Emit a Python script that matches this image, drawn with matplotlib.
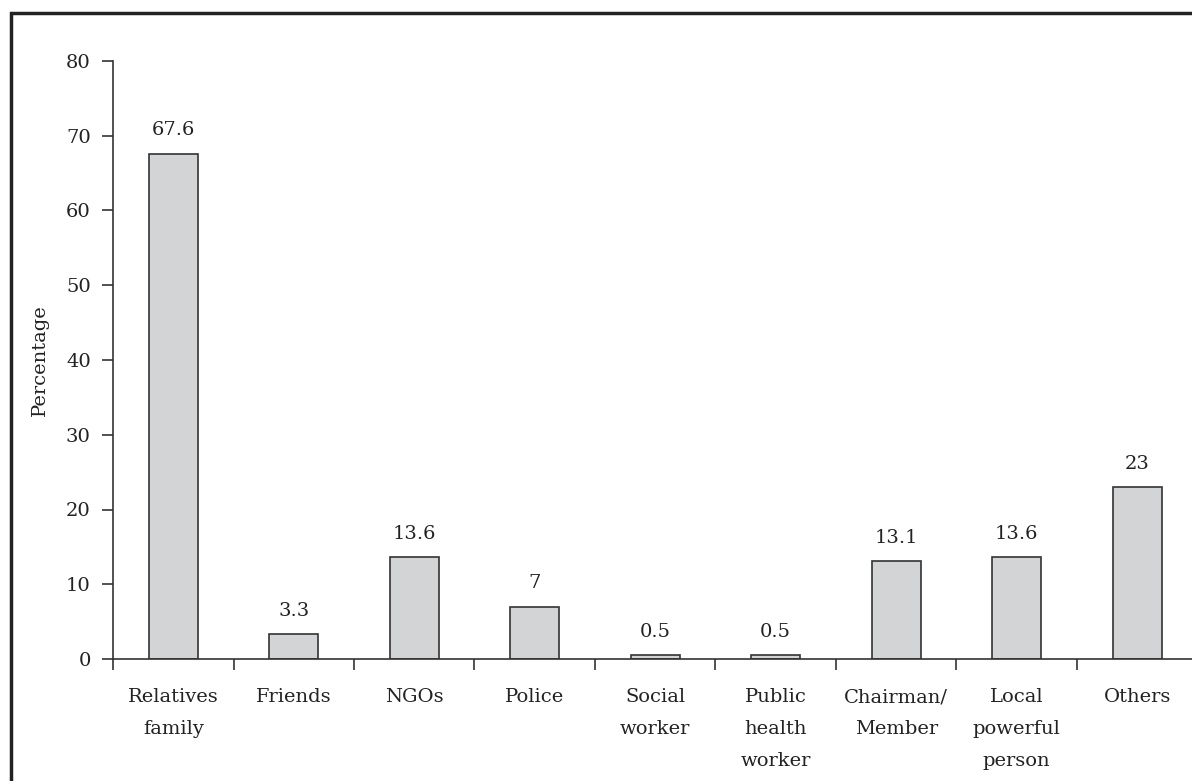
import numpy as np
import matplotlib
matplotlib.use("Agg")
from matplotlib import pyplot as plt
from matplotlib.patches import Rectangle

# data
categories = ["Relatives\nfamily", "Friends", "NGOs", "Police", "Social\nworker",
              "Public\nhealth\nworker", "Chairman/\nMember", "Local\npowerful\nperson", "Others"]
values = [67.6, 3.3, 13.6, 7, 0.5, 0.5, 13.1, 13.6, 23]
value_labels = ["67.6", "3.3", "13.6", "7", "0.5", "0.5", "13.1", "13.6", "23"]
yticks = [0, 10, 20, 30, 40, 50, 60, 70, 80]

plt.rcParams['font.family'] = ['DejaVu Serif']
W, H = 1192, 781
fig = plt.figure(figsize=(W / 100, H / 100), dpi=100)

# outer frame (cropped on the right and bottom)
fig.patches.append(Rectangle((11 / W, -0.1), 1.2, 1 - 13 / H + 0.1, transform=fig.transFigure,
                             fill=False, edgecolor='#222222', linewidth=2.5))

left, right = 113 / W, 1197.5 / W
bottom, top = 1 - 659 / H, 1 - 61 / H
ax = fig.add_axes([left, bottom, right - left, top - bottom])

x = np.arange(len(categories))
ax.bar(x, values, width=0.41, color='#d3d4d6', edgecolor='#333333', linewidth=1.2)
for xi, v, lab in zip(x, values, value_labels):
    ax.text(xi, v + 1.9, lab, ha='center', va='bottom', fontsize=14, color='#222222')

ax.set_xlim(-0.5, len(categories) - 0.5)
ax.set_ylim(0, 80)
ax.set_yticks(yticks)
ax.set_xticks(x)
ax.set_xticklabels(categories, fontsize=14, color='#222222', linespacing=2.0, va='top')
ax.set_xticks(np.arange(-0.5, len(categories), 1.0), minor=True)
ax.tick_params(axis='x', which='major', length=0, pad=21)
ax.tick_params(axis='x', which='minor', length=8, direction='out', width=1.2, color='#333333')
ax.tick_params(axis='y', length=8, width=1.2, color='#333333', labelsize=14, pad=8, labelcolor='#222222')
ax.set_ylabel("Percentage", fontsize=14, color='#222222', labelpad=12)

for s in ['top', 'right']:
    ax.spines[s].set_visible(False)
for s in ['left', 'bottom']:
    ax.spines[s].set_color('#333333')
    ax.spines[s].set_linewidth(1.2)

fig.savefig('out.png', dpi=100)
